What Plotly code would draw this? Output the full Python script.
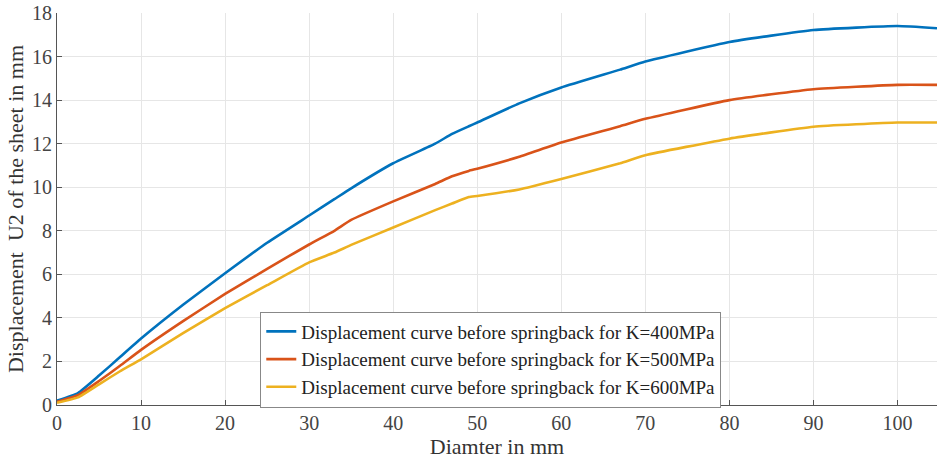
import plotly.graph_objects as go

diameter = [0, 2.5, 5, 7.5, 10, 15, 20, 25, 30, 33, 35, 40, 45, 47, 49, 50, 55, 60, 67, 70, 80, 90, 100, 104.7]

disp_k400 = [0.2, 0.55, 1.35, 2.2, 3.05, 4.6, 6.05, 7.45, 8.7, 9.45, 9.95, 11.1, 12.0, 12.45, 12.8, 12.97, 13.85, 14.58, 15.4, 15.77, 16.67, 17.22, 17.4, 17.3]
disp_k500 = [0.15, 0.45, 1.1, 1.8, 2.53, 3.85, 5.1, 6.25, 7.37, 8.0, 8.5, 9.35, 10.15, 10.5, 10.75, 10.85, 11.4, 12.05, 12.8, 13.14, 14.0, 14.5, 14.7, 14.7]
disp_k600 = [0.1, 0.35, 0.95, 1.55, 2.1, 3.3, 4.45, 5.5, 6.55, 7.0, 7.35, 8.15, 8.95, 9.25, 9.55, 9.6, 9.9, 10.38, 11.1, 11.47, 12.23, 12.78, 12.97, 12.97]

series_names = [
    "Displacement curve before springback for K=400MPa",
    "Displacement curve before springback for K=500MPa",
    "Displacement curve before springback for K=600MPa",
]
colors = ["#0072BD", "#D95319", "#EDB120"]

x_ticks = [0, 10, 20, 30, 40, 50, 60, 70, 80, 90, 100]
y_ticks = [0, 2, 4, 6, 8, 10, 12, 14, 16, 18]

font_family = "Liberation Serif, Times New Roman, serif"

fig = go.Figure()
for name, ys, c in zip(series_names, [disp_k400, disp_k500, disp_k600], colors):
    fig.add_trace(go.Scatter(x=diameter, y=ys, mode="lines", name=name,
                             line=dict(color=c, width=2.6, shape="spline", smoothing=0.4)))

fig.update_layout(
    width=937, height=459,
    margin=dict(l=57, r=0, t=13, b=54),
    paper_bgcolor="white", plot_bgcolor="white",
    font=dict(family=font_family, size=20, color="#333333"),
    showlegend=True,
    legend=dict(x=0.231, y=0.116, xanchor="left", yanchor="middle",
                bgcolor="white", bordercolor="#888888", borderwidth=1,
                font=dict(family=font_family, size=19, color="#222222"),
                tracegroupgap=0, itemwidth=30),
    xaxis=dict(range=[0, 104.7], tickvals=x_ticks, ticks="inside", ticklen=5,
               tickcolor="#555555", showline=True, linecolor="#555555", linewidth=1,
               showgrid=True, gridcolor="#e6e6e6", gridwidth=1, zeroline=False,
               automargin=False, ticklabeloverflow="allow",
               tickfont=dict(size=20, color="#444444"),
               title=dict(text="Diamter in mm", font=dict(size=22, color="#333333"), standoff=0)),
    yaxis=dict(range=[0, 18], tickvals=y_ticks, ticks="inside", ticklen=5,
               tickcolor="#555555", showline=True, linecolor="#555555", linewidth=1,
               showgrid=True, gridcolor="#e6e6e6", gridwidth=1, zeroline=False,
               automargin=False, ticklabeloverflow="allow",
               tickfont=dict(size=20, color="#444444"),
               title=dict(text="Displacement  U2 of the sheet in mm", font=dict(size=22, color="#333333"), standoff=2)),
)

fig.write_html("out.html", config={"displayModeBar": False},
               post_script="document.body.style.margin='0';")
